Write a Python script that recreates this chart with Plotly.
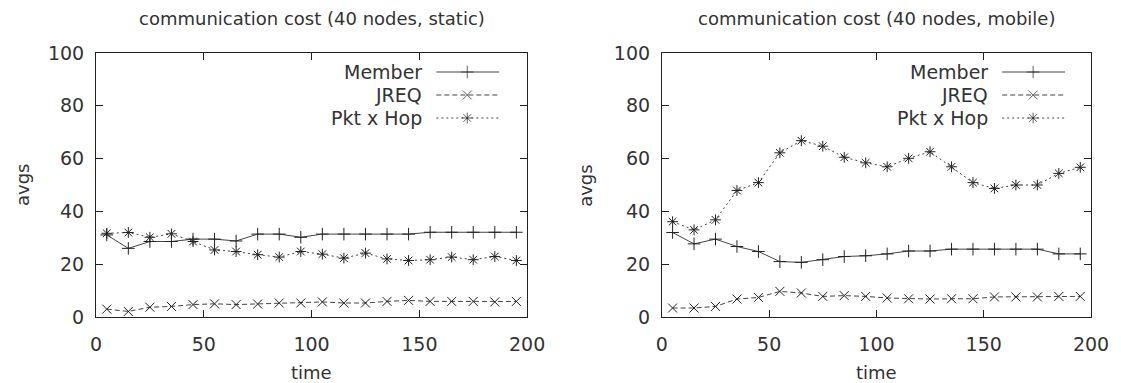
import plotly.graph_objects as go

time = [5, 15, 25, 35, 45, 55, 65, 75, 85, 95, 105, 115, 125, 135, 145, 155, 165, 175, 185, 195]

static_member = [31.1, 26.0, 28.6, 28.6, 29.5, 29.5, 28.8, 31.4, 31.4, 30.2, 31.4, 31.4, 31.4, 31.4, 31.4, 32.1, 32.1, 32.1, 32.1, 32.1]
static_jreq = [3.0, 2.1, 3.7, 4.0, 4.7, 5.0, 4.7, 4.9, 5.3, 5.3, 5.7, 5.3, 5.3, 5.9, 6.3, 5.9, 5.9, 5.9, 5.7, 5.9]
static_pkt = [31.7, 32.0, 30.2, 31.5, 28.6, 25.4, 24.8, 23.6, 22.7, 24.8, 23.8, 22.3, 24.2, 22.0, 21.4, 21.7, 22.7, 21.7, 22.9, 21.4]

mobile_member = [32.0, 27.7, 29.5, 26.7, 24.8, 21.0, 20.7, 21.7, 22.9, 23.2, 23.9, 25.0, 25.0, 25.7, 25.7, 25.7, 25.7, 25.7, 23.9, 23.9]
mobile_jreq = [3.4, 3.4, 4.0, 6.8, 7.4, 9.7, 9.1, 7.8, 8.1, 7.8, 7.2, 6.9, 6.8, 6.9, 6.9, 7.6, 7.6, 7.6, 7.8, 7.8]
mobile_pkt = [36.1, 33.0, 36.8, 47.9, 50.9, 62.2, 66.8, 64.7, 60.5, 58.4, 56.9, 60.1, 62.6, 56.9, 50.9, 48.7, 50.0, 50.0, 54.4, 56.7]

series_names = ["Member", "JREQ", "Pkt x Hop"]
titles = ["communication cost (40 nodes, static)", "communication cost (40 nodes, mobile)"]
x_ticks = [0, 50, 100, 150, 200]
y_ticks = [0, 20, 40, 60, 80, 100]

# page body has an 8px default margin (top/left): compensate
OFF = 8
W, H = 1121 - OFF, 383 - OFF
ML, MT = 96 - OFF, 53 - OFF
MR = OFF + W - 1093
MB = OFF + H - 317
PW = W - ML - MR
PH = H - MT - MB
dom1 = [0, 432 / PW]
dom2 = [567 / PW, 1]

FONT = "DejaVu Sans"
FS = 19
TXT = "#333333"
LC = "#444444"

styles = [
    dict(dash="solid", symbol="cross-thin-open"),
    dict(dash="5px,3px", symbol="x-thin-open"),
    dict(dash="2px,3px", symbol="asterisk-open"),
]

fig = go.Figure()

panels = [
    ("x", "y", [static_member, static_jreq, static_pkt]),
    ("x2", "y2", [mobile_member, mobile_jreq, mobile_pkt]),
]
for xa, ya, data in panels:
    for name, vals, st in zip(series_names, data, styles):
        fig.add_trace(go.Scatter(
            x=time, y=vals, name=name, mode="lines+markers", xaxis=xa, yaxis=ya,
            line=dict(color=LC, width=1, dash=st["dash"]),
            marker=dict(symbol=st["symbol"], size=9, color="#222222", line=dict(width=1, color="#222222")),
            showlegend=False,
        ))

# custom gnuplot-style legend (text right, sample left) on hidden overlay axes in pixel units
legend_rows = [PH - 19, PH - 42, PH - 65]
for xa, ya in [("x3", "y3"), ("x4", "y4")]:
    for name, st, yr in zip(series_names, styles, legend_rows):
        fig.add_trace(go.Scatter(
            x=[341, 372, 404], y=[yr, yr, yr], mode="lines+markers", xaxis=xa, yaxis=ya,
            line=dict(color=LC, width=1, dash=st["dash"]),
            marker=dict(symbol=st["symbol"], size=[0, 9, 0], color="#222222", line=dict(width=1, color="#222222")),
            showlegend=False, hoverinfo="skip",
        ))
        fig.add_annotation(x=329, y=yr, xref=xa, yref=ya, text=name, showarrow=False,
                           xanchor="right", yanchor="middle",
                           font=dict(family=FONT, size=FS, color=TXT))

axis_common = dict(
    showgrid=False, zeroline=False, showline=True, linecolor="#222222", linewidth=1,
    mirror="ticks", ticks="inside", ticklen=7, tickcolor="#222222",
    tickfont=dict(family=FONT, size=FS, color=TXT),
)

fig.update_layout(
    width=W, height=H,
    margin=dict(l=ML, r=MR, t=MT, b=MB),
    paper_bgcolor="white", plot_bgcolor="white",
    showlegend=False,
    xaxis=dict(domain=dom1, range=[0, 200], tickvals=x_ticks, anchor="y", ticklabelstandoff=10, **axis_common),
    yaxis=dict(domain=[0, 1], range=[0, 100], tickvals=y_ticks, anchor="x", ticklabelstandoff=7, **axis_common),
    xaxis2=dict(domain=dom2, range=[0, 200], tickvals=x_ticks, anchor="y2", ticklabelstandoff=10, **axis_common),
    yaxis2=dict(domain=[0, 1], range=[0, 100], tickvals=y_ticks, anchor="x2", ticklabelstandoff=7, **axis_common),
    xaxis3=dict(overlaying="x", range=[0, 432], visible=False, anchor="y3"),
    yaxis3=dict(overlaying="y", range=[0, PH], visible=False, anchor="x3"),
    xaxis4=dict(overlaying="x2", range=[0, 430], visible=False, anchor="y4"),
    yaxis4=dict(overlaying="y2", range=[0, PH], visible=False, anchor="x4"),
)

# titles and axis labels
for title, dom, yl_shift in zip(titles, [dom1, dom2], [-74, -77]):
    cx = (dom[0] + dom[1]) / 2
    fig.add_annotation(x=cx, y=1, xref="paper", yref="paper", yshift=35, text=title,
                       showarrow=False, xanchor="center", yanchor="middle",
                       font=dict(family=FONT, size=FS - 1, color=TXT))
    fig.add_annotation(x=cx, y=0, xref="paper", yref="paper", yshift=-55, text="time",
                       showarrow=False, xanchor="center", yanchor="middle",
                       font=dict(family=FONT, size=FS - 1, color=TXT))
    fig.add_annotation(x=dom[0], y=0.5, xref="paper", yref="paper", xshift=yl_shift, text="avgs",
                       showarrow=False, xanchor="center", yanchor="middle", textangle=-90,
                       font=dict(family=FONT, size=FS - 1, color=TXT))

fig.write_html("out.html")
